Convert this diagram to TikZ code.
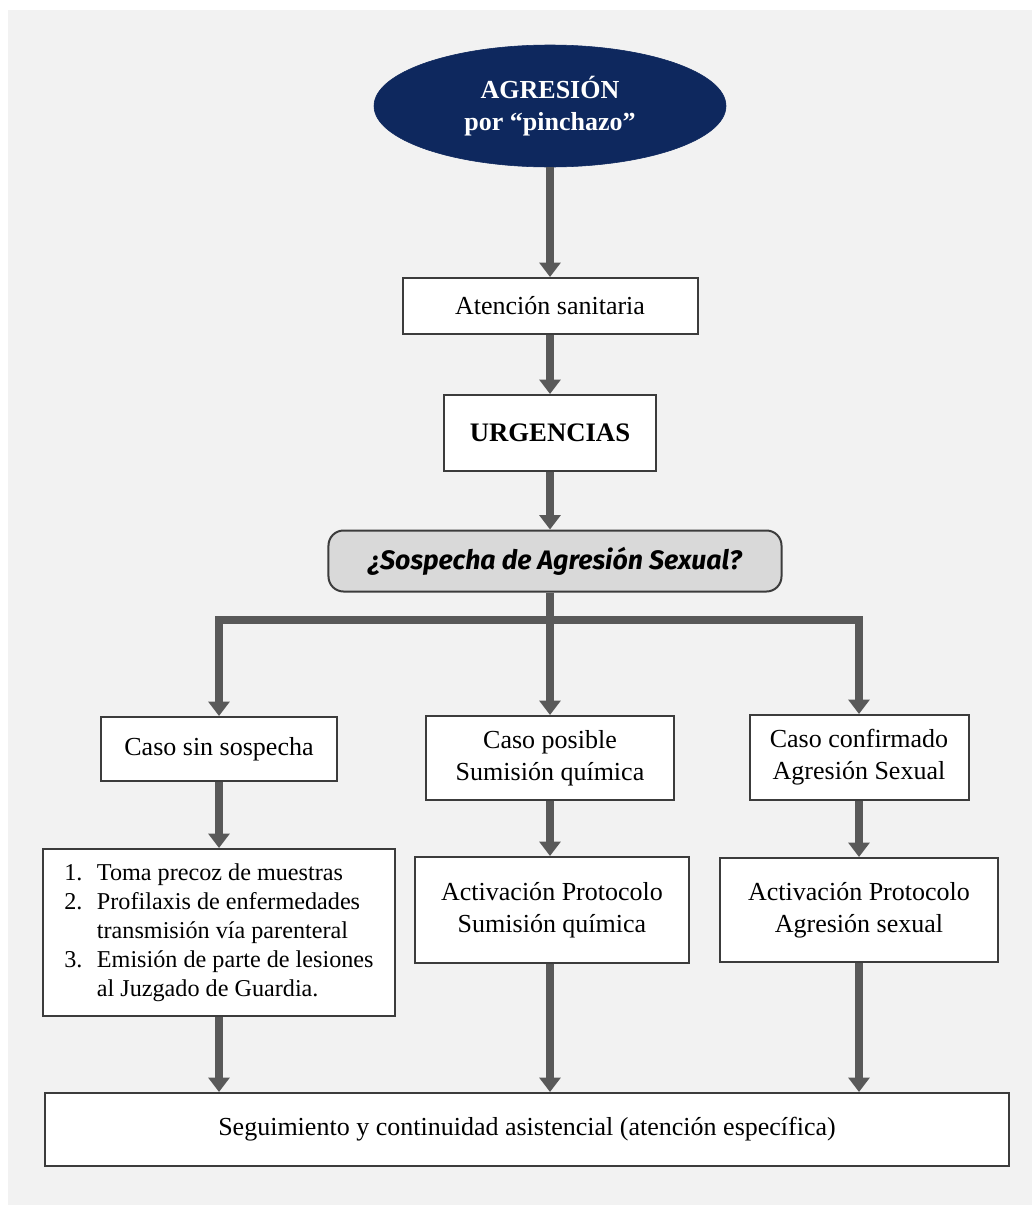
\documentclass[tikz,border=0pt]{standalone}
\usepackage{fontspec}
\setmainfont{Liberation Serif}
\newfontfamily\askfont{Fira Sans}
\usetikzlibrary{arrows.meta,shapes.geometric}
\definecolor{navy}{RGB}{14,40,94}
\definecolor{panel}{RGB}{242,242,242}
\definecolor{flowgray}{RGB}{89,89,89}
\definecolor{edgegray}{RGB}{60,60,60}
\definecolor{askgray}{RGB}{217,217,217}
\begin{document}
\begin{tikzpicture}[x=0.25mm, y=-0.25mm,
    box/.style={draw=edgegray, line width=0.5mm, fill=white, align=center,
        inner sep=0pt, font=\fontsize{18.5}{22.8}\selectfont},
    flow/.style={draw=flowgray, line width=2mm,
        -{Triangle[width=5.2mm,length=3.6mm]}}]
        \useasboundingbox (0, 0) rectangle (1032, 1205);
        \fill[white] (0, 0) rectangle (1032, 1205);
        \fill[panel] (8, 10) rectangle (1032, 1205);

        \node[ellipse, fill=navy, draw=navy, text=white, minimum width=88mm,
            minimum height=30.5mm, inner sep=0pt, align=center,
            font=\bfseries\fontsize{18.5}{22.8}\selectfont]
            (agresion) at (550, 106) {AGRESIÓN\\por “pinchazo”};
        \node[box, minimum width=73.75mm, minimum height=14mm]
            (atencion) at (550, 306) {Atención sanitaria};
        \node[box, minimum width=53mm, minimum height=19mm,
            font=\bfseries\fontsize{19}{22.8}\selectfont]
            (urgencias) at (550, 433) {URGENCIAS};
        \node[box, rounded corners=3.75mm, fill=askgray, minimum width=113.25mm,
            minimum height=15.25mm, font=\askfont\bfseries\itshape\fontsize{19}{24}\selectfont]
            (sospecha) at (555, 561) {¿Sospecha de Agresión Sexual?};

        \node[box, minimum width=59mm, minimum height=16mm]
            (sin) at (219, 749) {Caso sin sospecha};
        \node[box, minimum width=62mm, minimum height=21mm]
            (posible) at (550, 758) {Caso posible\\Sumisión química};
        \node[box, minimum width=54.75mm, minimum height=21.25mm]
            (confirmado) at (859, 757.5) {Caso confirmado\\Agresión Sexual};

        \node[box, minimum width=88mm, minimum height=41.75mm,
            font=\fontsize{17.2}{21}\selectfont]
            (medidas) at (219, 932.5) {%
            \renewcommand{\arraystretch}{0.98}%
            \begin{tabular}{@{}r@{\hspace{3.6mm}}l@{}}
                1. & Toma precoz de muestras\\
                2. & Profilaxis de enfermedades\\
                   & transmisión vía parenteral\\
                3. & Emisión de parte de lesiones\\
                   & al Juzgado de Guardia.
            \end{tabular}};
        \node[box, minimum width=68.5mm, minimum height=26.5mm]
            (protsumision) at (552, 910) {Activación Protocolo\\Sumisión química};
        \node[box, minimum width=69.5mm, minimum height=26mm]
            (protagresion) at (859, 910) {Activación Protocolo\\Agresión sexual};

        \node[box, minimum width=241mm, minimum height=18.25mm]
            (seguimiento) at (527, 1129.5)
            {Seguimiento y continuidad asistencial (atención específica)};

        \draw[flow] (agresion) -- (atencion);
        \draw[flow] (atencion) -- (urgencias);
        \draw[flow] (urgencias.south) -- (urgencias.south |- sospecha.north);

        % reparto de casos
        \coordinate (split) at (550, 620);
        \draw[flow] (posible.north |- sospecha.south) -- (posible.north);
        \draw[flow] (split) -| (sin.north);
        \draw[flow] (split) -| (confirmado.north);

        \draw[flow] (sin) -- (medidas);
        \draw[flow] (posible) -- (protsumision.north -| posible.south);
        \draw[flow] (confirmado) -- (protagresion);

        \draw[flow] (medidas.south) -- (medidas.south |- seguimiento.north);
        \draw[flow] (protsumision.south -| posible.south) -- (seguimiento.north -| posible.south);
        \draw[flow] (protagresion.south) -- (protagresion.south |- seguimiento.north);
    \end{tikzpicture}
\end{document}
